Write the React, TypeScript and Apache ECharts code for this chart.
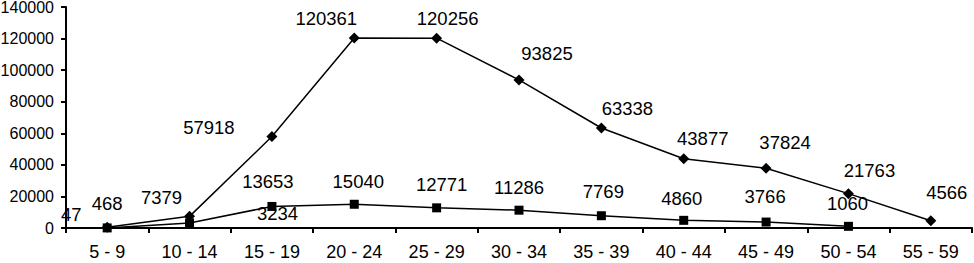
import React, { useEffect, useRef } from "react";
import * as echarts from "echarts";

const categories = ["5 - 9", "10 - 14", "15 - 19", "20 - 24", "25 - 29", "30 - 34", "35 - 39", "40 - 44", "45 - 49", "50 - 54", "55 - 59"];
const diamondValues = [468, 7379, 57918, 120361, 120256, 93825, 63338, 43877, 37824, 21763, 4566];
const squareValues: (number | null)[] = [47, 3234, 13653, 15040, 12771, 11286, 7769, 4860, 3766, 1060, null];
const yTicks = { min: 0, max: 140000, interval: 20000 };

// label placement (layout only)
const diamondLabelOffsets: [number, number][] = [
  [0, -24], [-28, -19], [-63, -9], [-28, -20], [11, -20], [28, -26],
  [26, -20], [19, -20], [19, -26], [21, -23], [16, -28],
];
const squareLabelOffsets: [number, number][] = [
  [-36, -13], [88, -9], [-4, -25], [4, -23], [5, -23], [0, -23],
  [2, -24], [-2, -22], [-1, -26], [-1, -23], [0, 0],
];

const FONT = "'Liberation Sans', Arial, sans-serif";

export default function App() {
  const ref = useRef<HTMLDivElement>(null);
  useEffect(() => {
    if (!ref.current) return;
    const chart = echarts.init(ref.current, null, { renderer: "svg" });
    const labelStyle = { color: "#000", fontSize: 18.5, fontFamily: FONT };
    chart.setOption({
      animation: false,
      backgroundColor: "#fff",
      grid: { left: 66, right: 2, top: 7, bottom: 35, containLabel: false, outerBoundsMode: "none" },
      xAxis: {
        type: "category",
        data: categories,
        boundaryGap: true,
        axisLine: { lineStyle: { color: "#000", width: 2 } },
        axisTick: { show: true, alignWithLabel: false, length: 5, lineStyle: { color: "#000", width: 2 } },
        axisLabel: { interval: 0, color: "#000", fontSize: 18, fontFamily: FONT, margin: 15 },
        splitLine: { show: false },
      },
      yAxis: {
        type: "value",
        min: yTicks.min,
        max: yTicks.max,
        interval: yTicks.interval,
        axisLine: { show: true, lineStyle: { color: "#000", width: 2 } },
        axisTick: { show: true, length: 5, lineStyle: { color: "#000", width: 2 } },
        axisLabel: { color: "#000", fontSize: 16, fontFamily: FONT, margin: 12, formatter: (v: number) => String(v) },
        splitLine: { show: false },
      },
      series: [
        {
          type: "line",
          data: squareValues.map((v, i) => ({
            value: v,
            label: { offset: squareLabelOffsets[i] },
          })),
          symbol: "rect",
          symbolSize: 9,
          itemStyle: { color: "#000" },
          lineStyle: { color: "#000", width: 1.5 },
          label: { show: true, position: "inside", ...labelStyle },
          connectNulls: false,
          z: 2,
        },
        {
          type: "line",
          data: diamondValues.map((v, i) => ({
            value: v,
            label: { offset: diamondLabelOffsets[i] },
          })),
          symbol: "diamond",
          symbolSize: 11,
          itemStyle: { color: "#000" },
          lineStyle: { color: "#000", width: 1.5 },
          label: { show: true, position: "inside", ...labelStyle },
          z: 3,
        },
      ],
    });
    return () => chart.dispose();
  }, []);
  return (
    <div
      ref={ref}
      style={{ position: "fixed", left: 0, top: 0, width: 974, height: 263, background: "#fff" }}
    />
  );
}
